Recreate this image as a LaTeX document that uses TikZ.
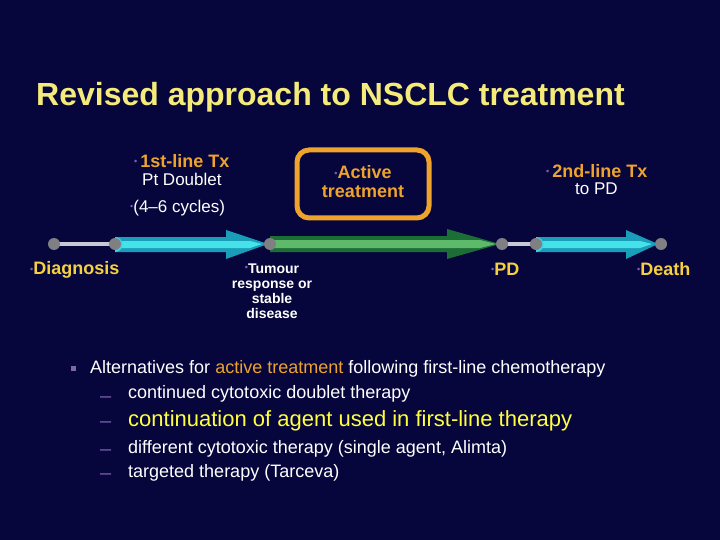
\documentclass[tikz,border=0pt]{standalone}
\usepackage{fontspec}
\setmainfont{Liberation Sans}
\definecolor{bg}{HTML}{06063C}
\definecolor{titleyel}{HTML}{F5EB7A}
\definecolor{orng}{HTML}{EDA32C}
\definecolor{yel}{HTML}{F5D040}
\definecolor{bul}{HTML}{7A5AB0}
\definecolor{cyout}{HTML}{1A9DB9}
\definecolor{cyin}{HTML}{45E2EA}
\definecolor{grout}{HTML}{1C6E36}
\definecolor{grin}{HTML}{5CBA6A}
\definecolor{dotgray}{HTML}{808084}
\definecolor{linegray}{HTML}{C8C8D2}
\definecolor{brightyel}{HTML}{FFFF40}
\newcommand{\bdot}{{\color{bul}\fontsize{9}{9}\selectfont\raisebox{2.5pt}{•}}}
\tikzset{
  dotnode/.style={circle,fill=dotgray,minimum size=12pt,inner sep=0pt},
  lbl/.style={inner sep=0pt,font=\bfseries\fontsize{18}{20}\selectfont},
  txt/.style={inner sep=0pt,anchor=west,text=white},
  dashmark/.style={inner sep=0pt,anchor=west,text=bul,font=\fontsize{20}{20}\selectfont},
}
\begin{document}
\begin{tikzpicture}[x=1pt,y=-1pt]
\fill[bg] (0,0) rectangle (720,540);
\useasboundingbox (0,0) rectangle (720,540);
% title
\node[anchor=west,inner sep=0pt,text=titleyel,font=\bfseries\fontsize{32}{34}\selectfont] (title) at (36,97) {Revised approach to NSCLC treatment};
% timeline dots
\coordinate (d0) at (54,244);
\coordinate (d1) at (115,244);
\coordinate (d2) at (270,244);
\coordinate (d3) at (502,244);
\coordinate (d4) at (536,244);
\coordinate (d5) at (661,244);
\draw[linegray,line width=4pt] (d0) -- (d1);
\draw[linegray,line width=4pt] (d3) -- (d4);
% cyan arrow 1
\fill[cyout] (115,237) -- (226,237) -- (226,230) -- (268,244) -- (226,259) -- (226,252) -- (115,252) -- cycle;
\fill[cyin] (117,241) -- (250,241) -- (262,244) -- (250,248) -- (117,248) -- cycle;
\fill[cyin!80!cyout] (115,237) arc[start angle=90,end angle=-90,radius=7.5pt] -- cycle;
% green arrow
\fill[grout] (270,236) -- (447,236) -- (447,229) -- (500,244) -- (447,259) -- (447,252) -- (270,252) -- cycle;
\fill[grin] (272,240) -- (480,240) -- (496,244) -- (480,248) -- (272,248) -- cycle;
% cyan arrow 2
\fill[cyout] (536,237) -- (626,237) -- (626,230) -- (658,244) -- (626,259) -- (626,252) -- (536,252) -- cycle;
\fill[cyin] (538,241) -- (640,241) -- (652,244) -- (640,248) -- (538,248) -- cycle;
\fill[cyin!80!cyout] (536,237) arc[start angle=90,end angle=-90,radius=7.5pt] -- cycle;
% dots
\node[dotnode] (n0) at (d0) {};
\node[dotnode] (n1) at (d1) {};
\node[dotnode] (n2) at (d2) {};
\node[dotnode] (n3) at (d3) {};
\node[dotnode] (n4) at (d4) {};
\node[dotnode] (n5) at (d5) {};
% labels above
\node[lbl,anchor=west,text=orng] (first) at (134,161) {\bdot\,1st-line Tx};
\node[inner sep=0pt,anchor=west,text=white,font=\fontsize{17}{19}\selectfont] (ptd) at (142,179) {Pt Doublet};
\node[inner sep=0pt,anchor=west,text=white,font=\fontsize{17}{19}\selectfont] (cyc) at (130,208) {\bdot(4--6 cycles)};
\draw[orng,line width=5pt,rounded corners=12pt] (297,150) rectangle (429,218);
\node[lbl,text=orng,align=center,font=\bfseries\fontsize{18}{19}\selectfont] (active) at (363,182) {\bdot Active\\treatment};
\node[lbl,anchor=west,text=orng] (second) at (546,171) {\bdot\,2nd-line Tx};
\node[inner sep=0pt,anchor=west,text=white,font=\fontsize{17}{19}\selectfont] (topd) at (575,189) {to PD};
% labels below
\node[lbl,anchor=west,text=yel] (diag) at (30,270) {\bdot Diagnosis};
\node[inner sep=0pt,text=white,align=center,font=\bfseries\fontsize{14}{15}\selectfont] (tum) at (272,291) {\bdot Tumour\\response or\\stable\\disease};
\node[lbl,anchor=west,text=yel] (pd) at (491,269) {\bdot PD};
\node[lbl,anchor=west,text=yel] (death) at (637,269) {\bdot Death};
% bullet list
\fill[bul!60!gray] (71,366) rectangle (76,371);
\node[txt,font=\fontsize{18}{20}\selectfont] (l1) at (90,369) {Alternatives for \textcolor{orng}{active treatment} following first-line chemotherapy};
\node[dashmark] (m2) at (100,400) {--};
\node[txt,font=\fontsize{18}{20}\selectfont] (l2) at (128,394) {continued cytotoxic doublet therapy};
\node[dashmark] (m3) at (100,425) {--};
\node[txt,text=brightyel,font=\fontsize{22}{24}\selectfont] (l3) at (128,421) {continuation of agent used in first-line therapy};
\node[dashmark] (m4) at (100,453) {--};
\node[txt,font=\fontsize{18}{20}\selectfont] (l4) at (128,449) {different cytotoxic therapy (single agent, Alimta)};
\node[dashmark] (m5) at (100,477) {--};
\node[txt,font=\fontsize{18}{20}\selectfont] (l5) at (128,473) {targeted therapy (Tarceva)};
\end{tikzpicture}
\end{document}
